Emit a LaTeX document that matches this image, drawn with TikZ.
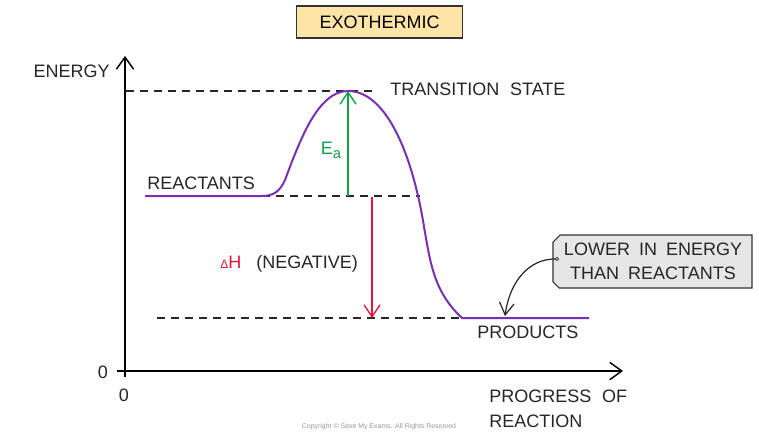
\documentclass[tikz,border=0pt]{standalone}
\usepackage{fontspec}
\setmainfont{Liberation Sans}
\usetikzlibrary{arrows.meta}
\definecolor{curvepurple}{HTML}{7A2FB0}
\definecolor{eagreen}{HTML}{0FA04A}
\definecolor{dhred}{HTML}{E0143C}
\definecolor{titlefill}{HTML}{FFE4A8}
\definecolor{calloutfill}{HTML}{E6E6E6}
\tikzset{
  lbl/.style={inner sep=0pt, text depth=0pt, font=\fontsize{13.5}{16}\selectfont, text=black!85},
  axis/.style={line width=1.3pt, draw=black, -{Straight Barb[length=9pt,width=13pt,line width=1.1pt]}},
  dashline/.style={line width=1.1pt, draw=black!85, dash pattern=on 6pt off 4.5pt},
  vtip/.style={-{Straight Barb[length=9pt,width=12pt,line width=1pt]}, line width=1.1pt},
}
\begin{document}
\begin{tikzpicture}[x=0.75pt,y=-0.75pt]
\useasboundingbox (0,0) rectangle (759,435);
\fill[white] (0,0) rectangle (759,435);

% title
\node[draw=black!80, fill=titlefill, line width=0.8pt, minimum width=125pt, minimum height=24pt,
      font=\fontsize{13.5}{16}\selectfont, inner sep=0pt] (title) at (379.5,22) {EXOTHERMIC};

% axes
\coordinate (origin) at (125,371);
\coordinate (ybot) at (125,377);
\coordinate (ytop) at (125,56);
\coordinate (xleft) at (117,371);
\coordinate (xright) at (623,371);
\draw[axis] (ybot) -- (ytop);
\draw[axis] (xleft) -- (xright);

\node[lbl, anchor=east] (energy) at (110,71) {ENERGY};
\node[lbl, anchor=center] (zeroy) at (103,372) {0};
\node[lbl, anchor=center] (zerox) at (124,395) {0};
\node[lbl, anchor=west] (prog) at (489,396) {PROGRESS\hspace{0.6em}OF};
\node[lbl, anchor=west] (react) at (489,421) {REACTION};
\node[inner sep=0pt, text=black!40, font=\fontsize{5.2}{6}\selectfont] (copy) at (379,427) {Copyright © Save My Exams. All Rights Reserved};

% dashed levels
\coordinate (d1a) at (126,91);  \coordinate (d1b) at (376,91);
\coordinate (d2a) at (262,196); \coordinate (d2b) at (420,196);
\coordinate (d3a) at (157,318); \coordinate (d3b) at (460,318);
\draw[dashline] (d1a) -- (d1b);
\draw[dashline] (d2a) -- (d2b);
\draw[dashline] (d3a) -- (d3b);

% energy profile
\coordinate (rstart) at (145,196);
\coordinate (rend) at (262,196);
\coordinate (peak) at (348,91);
\coordinate (pstart) at (462,318);
\coordinate (pend) at (589,318);
\draw[curvepurple, line width=1.5pt, line join=round]
  (rstart) -- (rend) .. controls (274,196) and (280,191) .. (285,180)
  .. controls (300,140) and (318,91) .. (peak)
  .. controls (385,91) and (410,150) .. (422,215)
  .. controls (430,260) and (432,290) .. (pstart) -- (pend);

% Ea arrow
\coordinate (eabot) at (348,196);
\draw[eagreen, vtip] (eabot) -- (peak);
\node[lbl, text=eagreen, anchor=center] (ea) at (331,148) {E\raisebox{-0.45ex}{\fontsize{11}{12}\selectfont a}};

% dH arrow
\coordinate (dhtop) at (372,197);
\coordinate (dhbot) at (372,318);
\draw[dhred, vtip] (dhtop) -- (dhbot);
\node[lbl, anchor=west, text=dhred] (dh) at (220,262) {{\fontsize{9}{10}\selectfont Δ}H};
\node[lbl, anchor=west] (neg) at (256,262) {(NEGATIVE)};

% level labels
\node[lbl, anchor=west] (ts) at (390,89) {TRANSITION\hspace{0.6em}STATE};
\node[lbl, anchor=west] (reac) at (147,183) {REACTANTS};
\node[lbl, anchor=west] (prod) at (477,332) {PRODUCTS};

% callout
\draw[fill=calloutfill, draw=black!80, line width=0.8pt]
  (560,235) -- (752,235) -- (752,288) -- (559,288) -- (553,282) -- (553,242) -- cycle;
\node[lbl, anchor=center, align=center, font=\fontsize{13.5}{18}\selectfont] (callout) at (653,261)
  {LOWER\hspace{0.5em}IN\hspace{0.5em}ENERGY\\THAN\hspace{0.5em}REACTANTS};
\coordinate (dot) at (557,259);
\coordinate (ptip) at (505,316);
\draw[black!85, line width=0.9pt, -{Straight Barb[length=9pt,width=11pt,line width=0.9pt]}]
  (dot) .. controls (530,258) and (510,280) .. (ptip);
\draw[black!85, fill=white, line width=0.6pt] (dot) circle (1.6);
\end{tikzpicture}
\end{document}
